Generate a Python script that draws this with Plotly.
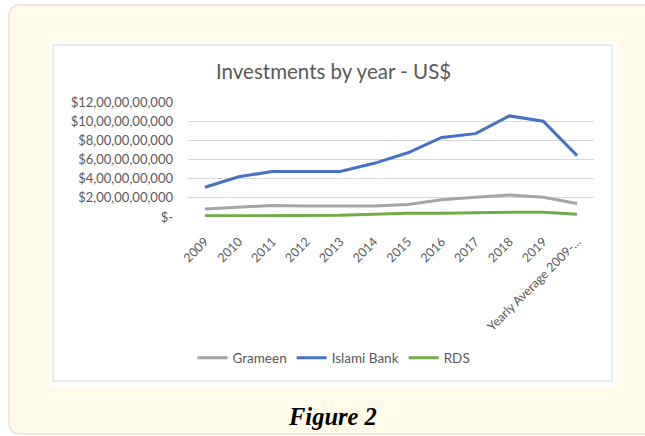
import plotly.graph_objects as go

categories = ["2009", "2010", "2011", "2012", "2013", "2014", "2015", "2016",
              "2017", "2018", "2019", "Yearly Average 2009-..."]
grameen = [0.83e9, 1.0e9, 1.2e9, 1.15e9, 1.15e9, 1.15e9, 1.3e9, 1.8e9, 2.05e9, 2.3e9, 2.05e9, 1.4e9]
islami = [3.1e9, 4.2e9, 4.75e9, 4.75e9, 4.75e9, 5.6e9, 6.7e9, 8.3e9, 8.7e9, 10.55e9, 10.0e9, 6.4e9]
rds = [0.12e9, 0.12e9, 0.18e9, 0.18e9, 0.18e9, 0.28e9, 0.38e9, 0.4e9, 0.48e9, 0.5e9, 0.5e9, 0.28e9]
ytick_vals = [0, 2e9, 4e9, 6e9, 8e9, 10e9, 12e9]
ytick_text = ["$-", "$2,00,00,00,000", "$4,00,00,00,000", "$6,00,00,00,000",
              "$8,00,00,00,000", "$10,00,00,00,000", "$12,00,00,00,000"]

W, H = 645, 436
L, R, T, B = 188, 51, 102, 219
PW, PH = W - L - R, H - T - B


def fx(px):
    return (px - L) / PW


def fy(py):
    return (T + PH - py) / PH


GRAY = "#595959"
FONT = "Lato"

fig = go.Figure()
fig.add_trace(go.Scatter(x=categories, y=grameen, name="Grameen", mode="lines",
                         line=dict(color="#a5a5a5", width=3)))
fig.add_trace(go.Scatter(x=categories, y=islami, name="Islami Bank", mode="lines",
                         line=dict(color="#4472c4", width=3)))
fig.add_trace(go.Scatter(x=categories, y=rds, name="RDS", mode="lines",
                         line=dict(color="#70ad47", width=3)))

# outer rounded panel
x0, y0, x1, y1, r = 9, 5, 670, 434, 12
path = (f"M {fx(x0)},{fy(y0 + r)} Q {fx(x0)},{fy(y0)} {fx(x0 + r)},{fy(y0)} "
        f"L {fx(x1)},{fy(y0)} L {fx(x1)},{fy(y1)} L {fx(x0 + r)},{fy(y1)} "
        f"Q {fx(x0)},{fy(y1)} {fx(x0)},{fy(y1 - r)} Z")
shapes = [
    dict(type="path", xref="paper", yref="paper", path=path, layer="below",
         fillcolor="#fffbe8", line=dict(color="#ece8dc", width=2)),
    dict(type="rect", xref="paper", yref="paper", x0=fx(49), x1=fx(617), y0=fy(41), y1=fy(387),
         layer="below", fillcolor="white", line=dict(width=0)),
    dict(type="rect", xref="paper", yref="paper", x0=fx(53), x1=fx(612), y0=fy(45), y1=fy(381),
         layer="below", fillcolor="white", line=dict(color="#d9d9d9", width=1)),
]

annotations = [
    dict(text="Investments by year - US$", xref="paper", yref="paper", x=fx(333), y=fy(71),
         xanchor="center", yanchor="middle", showarrow=False,
         font=dict(family=FONT, size=20.5, color=GRAY)),
    dict(text="<b><i>Figure 2</i></b>", xref="paper", yref="paper", x=fx(332), y=fy(416),
         xanchor="center", yanchor="middle", showarrow=False,
         font=dict(family="Liberation Serif", size=24.5, color="black")),
]

fig.update_layout(
    width=W, height=H,
    margin=dict(l=L, r=R, t=T, b=B, autoexpand=False),
    paper_bgcolor="white", plot_bgcolor="rgba(0,0,0,0)",
    shapes=shapes, annotations=annotations,
    showlegend=True,
    legend=dict(orientation="h", x=fx(334), xanchor="center", y=fy(358), yanchor="middle",
                font=dict(family=FONT, size=13.5, color=GRAY), bgcolor="rgba(0,0,0,0)",
                itemwidth=30, tracegroupgap=0),
    xaxis=dict(type="category", range=[-0.5, len(categories) - 0.5], showgrid=False,
               showline=False, zeroline=False, ticks="", tickangle=-45,
               ticklabelstandoff=14,
               tickfont=dict(family=FONT, size=12.5, color=GRAY), automargin=False),
    yaxis=dict(range=[0, 12e9], tickvals=ytick_vals, ticktext=ytick_text,
               showgrid=True, gridcolor="#d9d9d9", gridwidth=1, zeroline=False,
               showline=False, ticks="", ticklabelstandoff=14,
               tickfont=dict(family=FONT, size=13, color=GRAY), automargin=False),
)

fig.write_html("out.html")
